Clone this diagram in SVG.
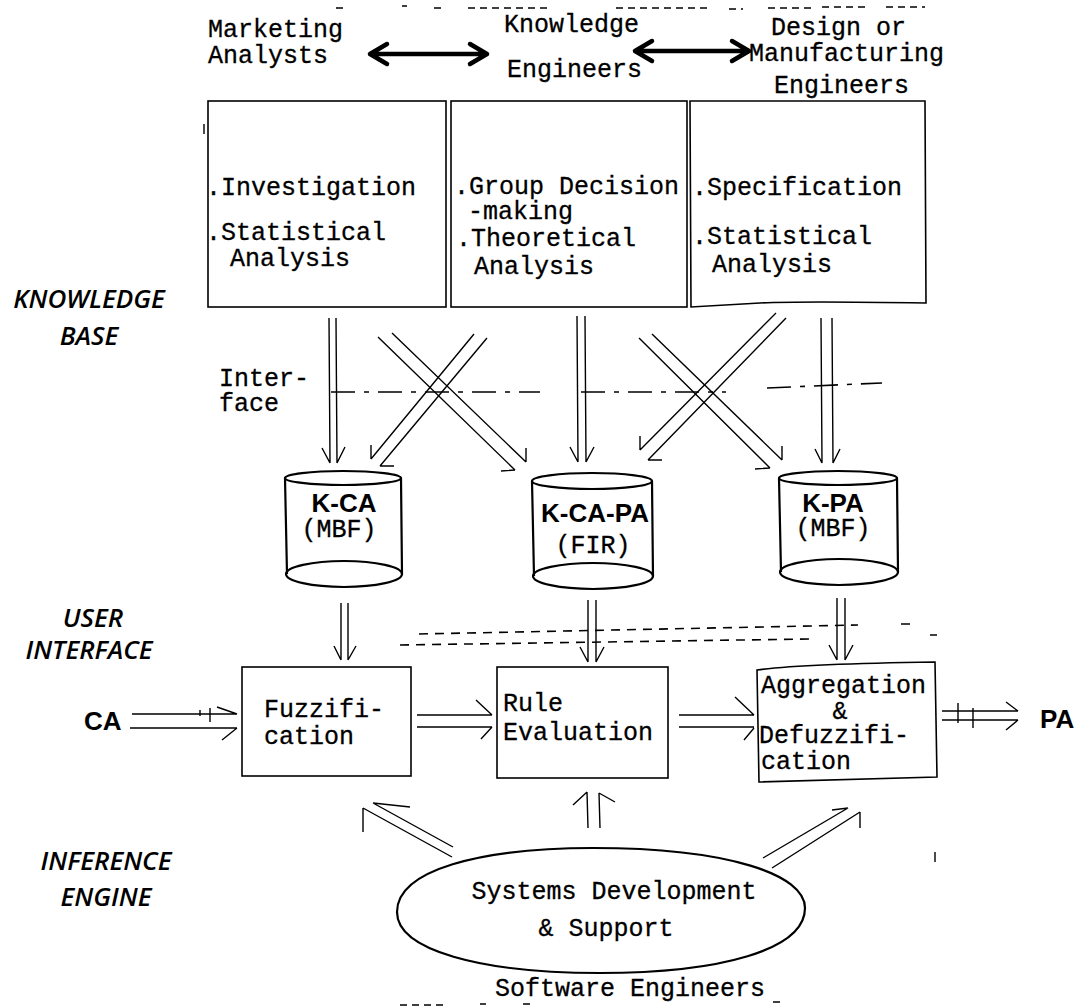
<svg xmlns="http://www.w3.org/2000/svg" width="1085" height="1008" viewBox="0 0 1085 1008">
  <style>
    .mono { font-family: "Liberation Mono", "Courier New", monospace; font-size: 25px; fill: #000; stroke: #000; stroke-width: 0.3; }
    .lbl { font-family: "Open Sans", "DejaVu Sans", sans-serif; font-style: italic; font-weight: 600; font-size: 26px; fill: #000; }
    .kb { font-family: "Liberation Sans", Arial, sans-serif; font-weight: bold; font-size: 26px; fill: #000; }
    .ln { stroke: #000; stroke-width: 1.4; fill: none; }
    .box { stroke: #000; stroke-width: 1.6; fill: none; }
    .thick { stroke: #000; stroke-width: 4.5; fill: none; stroke-linecap: round; stroke-linejoin: round; }
    .dash { stroke: #000; stroke-width: 1.6; fill: none; stroke-dasharray: 9 7; }
    .dashdot { stroke: #000; stroke-width: 1.6; fill: none; stroke-dasharray: 24 9 5 9; }
    .cyl { stroke: #000; stroke-width: 2.2; fill: none; }
  </style>
  <rect width="1085" height="1008" fill="#fff"/>

  <!-- stray marks along the top and bottom edges -->
  <g id="edge-marks" class="ln" stroke-width="1.6">
    <path d="M336,8 H343 M402,6 H407 M434,8 H446 M468,8 H552 M616,8 H712 M729,9 H743 M768,8 H812 M822,7 H866 M886,7 H925" stroke-dasharray="7 5"/>
    <path d="M204,124 V134 M935,852 V862"/>
    <path d="M480,1004 H486 M523,1004 H530 M773,1002 H781 M400,1005 H447" stroke-dasharray="7 5"/>
  </g>

  <!-- side labels -->
  <g id="layer-labels">
    <text class="lbl" x="89" y="308" text-anchor="middle">KNOWLEDGE</text>
    <text class="lbl" x="89" y="345" text-anchor="middle">BASE</text>
    <text class="lbl" x="93" y="627" text-anchor="middle">USER</text>
    <text class="lbl" x="89" y="659" text-anchor="middle">INTERFACE</text>
    <text class="lbl" x="106" y="870" text-anchor="middle">INFERENCE</text>
    <text class="lbl" x="106" y="906" text-anchor="middle">ENGINE</text>
  </g>

  <!-- teams at the top -->
  <g id="team-marketing">
    <text class="mono" x="208" y="37">Marketing</text>
    <text class="mono" x="208" y="63">Analysts</text>
  </g>
  <g id="team-knowledge">
    <text class="mono" x="504" y="32">Knowledge</text>
    <text class="mono" x="507" y="77">Engineers</text>
  </g>
  <g id="team-design">
    <text class="mono" x="771" y="35">Design or</text>
    <text class="mono" x="749" y="61">Manufacturing</text>
    <text class="mono" x="774" y="93">Engineers</text>
  </g>

  <!-- knowledge acquisition boxes -->
  <g id="box-marketing">
    <rect class="box" x="208" y="101" width="238" height="206"/>
    <text class="mono" x="206" y="195">.Investigation</text>
    <text class="mono" x="206" y="240">.Statistical</text>
    <text class="mono" x="230" y="266">Analysis</text>
  </g>
  <g id="box-knowledge">
    <rect class="box" x="451" y="101" width="236" height="206"/>
    <text class="mono" x="454" y="194">.Group Decision</text>
    <text class="mono" x="468" y="219">-making</text>
    <text class="mono" x="456" y="246">.Theoretical</text>
    <text class="mono" x="474" y="274">Analysis</text>
  </g>
  <g id="box-design">
    <path class="box" d="M690,101 L925,101 L926,303 Q800,301 760,303 L691,307 Z"/>
    <text class="mono" x="692" y="195">.Specification</text>
    <text class="mono" x="692" y="244">.Statistical</text>
    <text class="mono" x="712" y="272">Analysis</text>
  </g>

  <g id="interface-label">
    <text class="mono" x="219" y="386">Inter-</text>
    <text class="mono" x="219" y="411">face</text>
  </g>

  <!-- knowledge bases -->
  <g id="kb-ca">
    <ellipse class="cyl" cx="343" cy="478" rx="58" ry="7"/>
    <path class="cyl" d="M285,478 L287,574 M401,478 L402,574"/>
    <ellipse class="cyl" cx="344" cy="574" rx="58" ry="13"/>
    <text class="kb" x="344" y="512" text-anchor="middle">K-CA</text>
    <text class="mono" x="339" y="537" text-anchor="middle" font-size="23">(MBF)</text>
  </g>
  <g id="kb-ca-pa">
    <ellipse class="cyl" cx="592" cy="481" rx="60" ry="8"/>
    <path class="cyl" d="M532,481 L534,576 M652,481 L653,576"/>
    <ellipse class="cyl" cx="593" cy="576" rx="60" ry="13"/>
    <text class="kb" x="595" y="522" text-anchor="middle">K-CA-PA</text>
    <text class="mono" x="593" y="553" text-anchor="middle" font-size="23">(FIR)</text>
  </g>
  <g id="kb-pa">
    <ellipse class="cyl" cx="838" cy="478" rx="59" ry="7"/>
    <path class="cyl" d="M779,478 L781,572 M897,478 L898,572"/>
    <ellipse class="cyl" cx="839" cy="572" rx="59" ry="13"/>
    <text class="kb" x="833" y="512" text-anchor="middle">K-PA</text>
    <text class="mono" x="833" y="536" text-anchor="middle" font-size="23">(MBF)</text>
  </g>

  <!-- fuzzy inference stages -->
  <g id="stage-fuzzification">
    <rect class="box" x="242" y="667" width="169" height="109"/>
    <text class="mono" x="264" y="717">Fuzzifi-</text>
    <text class="mono" x="264" y="744">cation</text>
  </g>
  <g id="stage-rule">
    <rect class="box" x="497" y="667" width="171" height="111"/>
    <text class="mono" x="503" y="711">Rule</text>
    <text class="mono" x="503" y="740">Evaluation</text>
  </g>
  <g id="stage-aggregation">
    <path class="box" d="M757,670 Q800,664 935,662 L937,777 L759,782 Z"/>
    <text class="mono" x="761" y="693">Aggregation</text>
    <text class="mono" x="840" y="719" text-anchor="middle">&amp;</text>
    <text class="mono" x="759" y="743">Defuzzifi-</text>
    <text class="mono" x="761" y="769">cation</text>
  </g>

  <g id="io-ca"><text class="kb" x="84" y="730">CA</text></g>
  <g id="io-pa"><text class="kb" x="1040" y="728">PA</text></g>

  <g id="support">
    <path class="cyl" d="M397,912 C397,870 480,848 593,848 C730,848 805,875 805,908 C805,950 720,973 600,973 C480,973 397,950 397,912 Z"/>
    <text class="mono" x="614" y="899" text-anchor="middle">Systems Development</text>
    <text class="mono" x="606" y="936" text-anchor="middle">&amp; Support</text>
    <text class="mono" x="630" y="996" text-anchor="middle">Software Engineers</text>
  </g>

  <!-- connectors -->
  <g id="connectors">
    <!-- collaboration arrows between teams -->
    <path class="thick" d="M371,54 H486 M387,44 L370,54 L387,64 M470,44 L487,54 L470,64"/>
    <path class="thick" d="M636,51 H748 M652,41 L635,51 L652,61 M732,41 L749,51 L732,61"/>

    <!-- boxes to knowledge bases -->
    <path class="ln" d="M329,318 L330,463 M336,318 L337,463 M322,448 L330,463 M345,447 L337,463"/>
    <path class="ln" d="M577,316 L578,462 M585,316 L586,462 M570,447 L578,462 M594,447 L586,462"/>
    <path class="ln" d="M821,318 L822,463 M832,318 L833,463 M815,449 L822,463 M840,449 L833,463"/>
    <!-- crossing pairs -->
    <path class="ln" d="M378,337 L515,470 M392,333 L526,462 M515,470 L501,471 M526,462 L526,448"/>
    <path class="ln" d="M474,334 L371,459 M487,338 L380,466 M371,459 L371,445 M380,466 L394,466"/>
    <path class="ln" d="M639,338 L770,468 M652,334 L782,460 M770,468 L755,469 M782,460 L782,446"/>
    <path class="ln" d="M776,313 L640,450 M786,318 L648,460 M640,450 L640,436 M648,460 L662,460"/>
    <!-- interface boundary -->
    <path class="dashdot" d="M331,392 H540 M581,392 H726 M767,388 L882,383"/>

    <!-- knowledge bases to stages -->
    <path class="ln" d="M341,603 V660 M348,603 V660 M334,646 L341,660 M356,646 L348,660"/>
    <path class="ln" d="M588,600 V662 M596,600 V662 M580,647 L588,662 M604,647 L596,662"/>
    <path class="ln" d="M837,598 V660 M845,598 V660 M829,645 L837,660 M853,645 L845,660"/>
    <!-- user interface boundary -->
    <path class="dash" d="M419,634 L858,625 M901,624 H912 M930,635 H937"/>
    <path class="dash" d="M400,645 L809,639"/>

    <!-- signal flow -->
    <path class="ln" d="M132,714 H237 M130,728 H237 M217,707 L237,714 M222,740 L237,728 M210,708 V722 M200,710 V716"/>
    <path class="ln" d="M417,715 H492 M417,727 H492 M476,700 L492,715 M481,739 L492,727"/>
    <path class="ln" d="M679,715 H754 M679,727 H754 M735,697 L754,715 M744,740 L754,728"/>
    <path class="ln" d="M942,711 H1018 M942,720 H1018 M1006,702 L1018,711 M1006,730 L1018,720 M958,703 V723 M973,708 V728"/>

    <!-- support to stages -->
    <path class="ln" d="M452,857 L363,808 M453,847 L373,803 M363,808 L363,832 M373,803 L410,807"/>
    <path class="ln" d="M588,828 L587,792 M600,828 L599,793 M573,805 L587,792 M599,793 L615,802"/>
    <path class="ln" d="M763,858 L848,808 M772,868 L860,812 M848,808 L832,810 M860,812 L860,828"/>
  </g>
</svg>
